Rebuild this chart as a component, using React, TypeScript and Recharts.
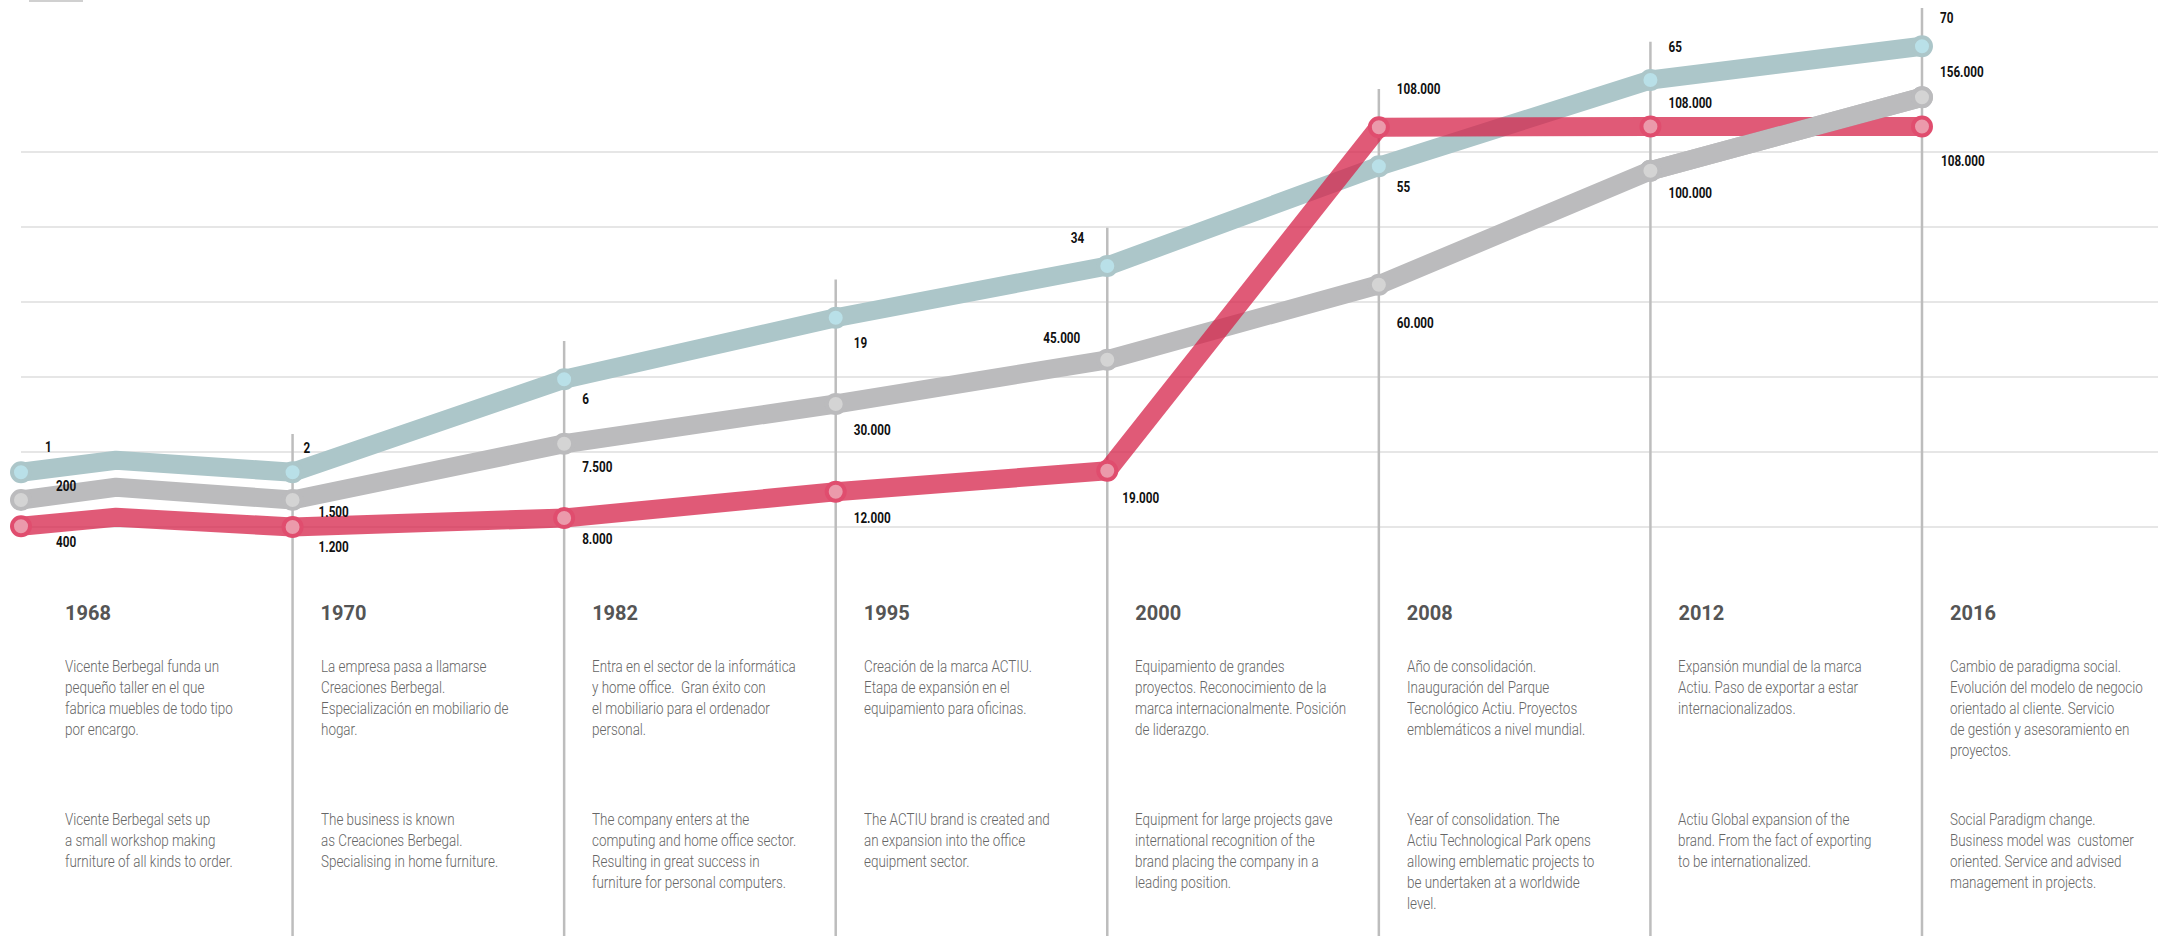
import React from 'react';
import { LineChart, Line, XAxis, YAxis, CartesianGrid, ReferenceLine } from 'recharts';

const years = ['1968', '1970', '1982', '1995', '2000', '2008', '2012', '2016'];

// drawn heights of the three lines (the infographic is not to scale with its labels)
const blueHeights = [7.3, 7.3, 19.7, 27.9, 34.8, 48.1, 59.6, 64.1];
const grayHeights = [3.6, 3.6, 11.1, 16.4, 22.3, 32.3, 47.5, 57.3];
const redHeights = [0.1, 0.0, 1.2, 4.7, 7.5, 53.3, 53.4, 53.4];

// unlabeled bend between 1968 and 1970
const bendAt = 0.35;
const blueBend = 8.9;
const grayBend = 5.3;
const redBend = 1.3;

const blueLabels = ['1', '2', '6', '19', '34', '55', '65', '70'];
const grayLabels = ['200', '1.500', '7.500', '30.000', '45.000', '60.000', '100.000', '156.000'];
const redLabels = ['400', '1.200', '8.000', '12.000', '19.000', '108.000', '108.000', '108.000'];

const textEs = [
  'Vicente Berbegal funda un\npequeño taller en el que\nfabrica muebles de todo tipo\npor encargo.',
  'La empresa pasa a llamarse\nCreaciones Berbegal.\nEspecialización en mobiliario de\nhogar.',
  'Entra en el sector de la informática\ny home office.  Gran éxito con\nel mobiliario para el ordenador\npersonal.',
  'Creación de la marca ACTIU.\nEtapa de expansión en el\nequipamiento para oficinas.',
  'Equipamiento de grandes\nproyectos. Reconocimiento de la\nmarca internacionalmente. Posición\nde liderazgo.',
  'Año de consolidación.\nInauguración del Parque\nTecnológico Actiu. Proyectos\nemblemáticos a nivel mundial.',
  'Expansión mundial de la marca\nActiu. Paso de exportar a estar\ninternacionalizados.',
  'Cambio de paradigma social.\nEvolución del modelo de negocio\norientado al cliente. Servicio\nde gestión y asesoramiento en\nproyectos.',
];

const textEn = [
  'Vicente Berbegal sets up\na small workshop making\nfurniture of all kinds to order.',
  'The business is known\nas Creaciones Berbegal.\nSpecialising in home furniture.',
  'The company enters at the\ncomputing and home office sector.\nResulting in great success in\nfurniture for personal computers.',
  'The ACTIU brand is created and\nan expansion into the office\nequipment sector.',
  'Equipment for large projects gave\ninternational recognition of the\nbrand placing the company in a\nleading position.',
  'Year of consolidation. The\nActiu Technological Park opens\nallowing emblematic projects to\nbe undertaken at a worldwide\nlevel.',
  'Actiu Global expansion of the\nbrand. From the fact of exporting\nto be internationalized.',
  'Social Paradigm change.\nBusiness model was  customer\noriented. Service and advised\nmanagement in projects.',
];

// label placement: [dx, dy, anchorEnd]
const blueLabelPos: [number, number, boolean][] = [
  [24, -20, false], [11, -19, false], [18, 25, false], [18, 30, false],
  [-23, -23, true], [18, 26, false], [18, -28, false], [18, -23, false],
];
const grayLabelPos: [number, number, boolean][] = [
  [35, -9, false], [26, 17, false], [18, 28, false], [18, 31, false],
  [-27, -17, true], [18, 43, false], [18, 27, false], [18, -20, false],
];
const redLabelPos: [number, number, boolean][] = [
  [35, 21, false], [26, 25, false], [18, 26, false], [18, 31, false],
  [15, 32, false], [18, -33, false], [18, -19, false], [19, 39, false],
];

const W = 2158;
const H = 936;
const STEP = 271.57;
const LEFT = 21;
const Y_MIN = -54.53;
const Y_MAX = 70;

const rows: any[] = [];
years.forEach((year, i) => {
  rows.push({
    x: i,
    yi: i,
    year,
    blue: blueHeights[i],
    gray: grayHeights[i],
    red: redHeights[i],
    grayTop: i >= 6 ? grayHeights[i] : null,
  });
  if (i === 0) {
    rows.push({ x: bendAt, yi: -1, year: '', blue: blueBend, gray: grayBend, red: redBend, grayTop: null });
  }
});

const font = 'Roboto, "Liberation Sans", sans-serif';

const RED = 'rgba(214,35,74,0.75)';

const makeDot = (fill: string, ring: string, labels?: string[], pos?: [number, number, boolean][]) =>
  (props: any) => {
    const { cx, cy, payload, index } = props;
    if (!payload || payload.yi < 0 || cx == null || cy == null) return <g key={`e${index}`} />;
    const o = pos ? pos[payload.yi] : null;
    return (
      <g key={`d${index}`}>
        <circle cx={cx} cy={cy} r={9} fill={fill} stroke={ring} strokeWidth={4} />
        {labels && o && (
          <g transform={`translate(${cx + o[0]},${cy + o[1]}) scale(0.78,1)`}>
            <text
              x={0}
              y={0}
              textAnchor={o[2] ? 'end' : 'start'}
              fontFamily={font}
              fontWeight={700}
              fontSize={15}
              fill="#111"
            >
              {labels[payload.yi]}
            </text>
          </g>
        )}
      </g>
    );
  };

const colLeft = (i: number) => (i === 0 ? 65 : LEFT + i * STEP + 28);

const bodyStyle: React.CSSProperties = {
  position: 'absolute',
  left: 0,
  fontFamily: font,
  fontWeight: 300,
  fontSize: 17,
  lineHeight: '21px',
  color: '#666',
  whiteSpace: 'pre',
  transform: 'scaleX(0.79)',
  transformOrigin: 'left top',
};

export default function App() {
  return (
    <div style={{ position: 'absolute', left: 0, top: 0, width: W, height: H, overflow: 'hidden', background: '#fff' }}>
      <div style={{ position: 'absolute', left: 29, top: 0, width: 54, height: 2, background: '#d0d0d0' }} />
      <LineChart width={W} height={H} data={rows} margin={{ top: 2, right: 0, bottom: 0, left: LEFT }}>
        <XAxis type="number" dataKey="x" domain={[0, (W - LEFT) / STEP]} hide />
        <YAxis type="number" domain={[Y_MIN, Y_MAX]} ticks={[0, 10, 20, 30, 40, 50]} hide />
        <CartesianGrid vertical={false} horizontalValues={[0, 10, 20, 30, 40, 50]} stroke="#e6e6e6" strokeWidth={2} />
        {years.map((y, i) =>
          i === 0 ? null : (
            <ReferenceLine
              key={y}
              segment={[
                { x: i, y: Y_MIN },
                { x: i, y: Math.max(blueHeights[i], grayHeights[i], redHeights[i]) + 5.1 },
              ]}
              stroke="#bdbdbd"
              strokeWidth={2.5}
            />
          )
        )}
        <Line
          type="linear"
          dataKey="blue"
          stroke="#acc6c9"
          strokeWidth={19}
          strokeLinejoin="round"
          dot={makeDot('#b9e0e8', '#acc6c9', blueLabels, blueLabelPos)}
          activeDot={false}
          isAnimationActive={false}
        />
        <Line
          type="linear"
          dataKey="gray"
          stroke="#bbbbbd"
          strokeWidth={19}
          strokeLinejoin="round"
          dot={makeDot('#d4d4d4', '#bbbbbd', grayLabels, grayLabelPos)}
          activeDot={false}
          isAnimationActive={false}
        />
        <Line
          type="linear"
          dataKey="red"
          stroke={RED}
          strokeWidth={19}
          strokeLinejoin="round"
          dot={makeDot('#eb9aab', '#e04d6e', redLabels, redLabelPos)}
          activeDot={false}
          isAnimationActive={false}
        />
        <Line
          type="linear"
          dataKey="grayTop"
          stroke="#bbbbbd"
          strokeWidth={19}
          strokeLinejoin="round"
          dot={makeDot('#d4d4d4', '#bbbbbd')}
          activeDot={false}
          isAnimationActive={false}
        />
      </LineChart>
      {years.map((y, i) => (
        <div key={y} style={{ position: 'absolute', left: colLeft(i), top: 0 }}>
          <div
            style={{
              position: 'absolute',
              top: 603,
              left: 0,
              fontFamily: font,
              fontWeight: 700,
              fontSize: 20,
              lineHeight: '20px',
              color: '#555',
              whiteSpace: 'nowrap',
            }}
          >
            {y}
          </div>
          <div style={{ ...bodyStyle, top: 656 }}>{textEs[i]}</div>
          <div style={{ ...bodyStyle, top: 809 }}>{textEn[i]}</div>
        </div>
      ))}
    </div>
  );
}
